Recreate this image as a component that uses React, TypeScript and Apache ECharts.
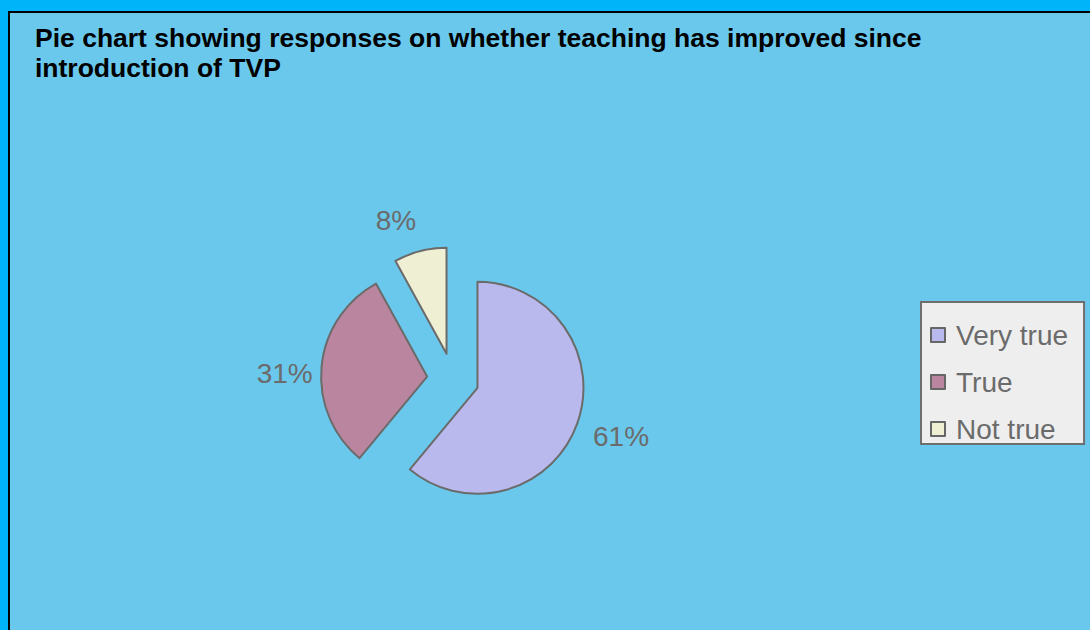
import React, { useEffect, useRef } from "react";
import * as echarts from "echarts";

const categories = ["Very true", "True", "Not true"];
const values = [61, 31, 8];
const colors = ["#B9B9EE", "#BA869F", "#EFEFD4"];
const titleText = "Pie chart showing responses on whether teaching has improved since\nintroduction of TVP";

// label nudges (style only)
const labelNudges = [
  [0, 6],
  [8, 9],
  [-2, -11],
];

const FONT = 'Arial, "Liberation Sans", sans-serif';

export default function App() {
  const ref = useRef<HTMLDivElement>(null);

  useEffect(() => {
    if (!ref.current) return;
    const chart = echarts.init(ref.current, undefined, { renderer: "svg" });
    const data = categories.map((name, i) => ({
      name,
      value: values[i],
      selected: true,
      itemStyle: { color: colors[i] },
    }));
    chart.setOption({
      animation: false,
      title: {
        text: titleText,
        left: 25,
        top: 10,
        padding: 0,
        textStyle: {
          fontFamily: FONT,
          fontSize: 26.5,
          fontWeight: "bold",
          color: "#000000",
          lineHeight: 30,
        },
      },
      legend: {
        orient: "vertical",
        left: 911,
        top: 289,
        backgroundColor: "#EEEEEE",
        borderColor: "#6E6E6E",
        borderWidth: 2,
        borderRadius: 0,
        padding: [19, 16, 1, 9],
        itemGap: 19,
        itemWidth: 14,
        itemHeight: 14,
        icon: "rect",
        selectedMode: false,
        itemStyle: { borderColor: "#666666", borderWidth: 2 },
        formatter: (name: string) => `{t|${name}}`,
        textStyle: {
          fontFamily: FONT,
          fontSize: 28,
          color: "#6B6B6B",
          rich: {
            t: { fontFamily: FONT, fontSize: 28, color: "#6B6B6B", padding: [0, 0, 0, 6] },
          },
        },
        data: categories,
      },
      series: [
        {
          type: "pie",
          center: [443, 366],
          radius: 106,
          startAngle: 90,
          clockwise: true,
          selectedMode: "multiple",
          selectedOffset: 26,
          avoidLabelOverlap: false,
          itemStyle: { borderColor: "#6B6B6B", borderWidth: 2 },
          label: {
            show: true,
            position: "outside",
            formatter: (p: any) => `${p.value}%`,
            fontFamily: FONT,
            fontSize: 28,
            color: "#6B6B6B",
            distanceToLabelLine: -3,
          },
          labelLine: { show: false, length: 20, length2: 0 },
          labelLayout: (params: any) => {
            const n = labelNudges[params.dataIndex] || [0, 0];
            return { dx: n[0], dy: n[1] };
          },
          emphasis: { disabled: true },
          select: { itemStyle: { borderColor: "#6B6B6B", borderWidth: 2 } },
          data,
        },
      ],
    });
    return () => chart.dispose();
  }, []);

  return (
    <div
      style={{
        position: "fixed",
        left: 0,
        top: 0,
        width: 1090,
        height: 630,
        background: "#00B4FA",
        overflow: "hidden",
      }}
    >
      <div
        style={{
          position: "absolute",
          left: 8,
          top: 11,
          width: 1100,
          height: 640,
          border: "2px solid #000000",
          background: "#6AC8EC",
          overflow: "hidden",
        }}
      >
        <div ref={ref} style={{ width: 1080, height: 617 }} />
      </div>
    </div>
  );
}
